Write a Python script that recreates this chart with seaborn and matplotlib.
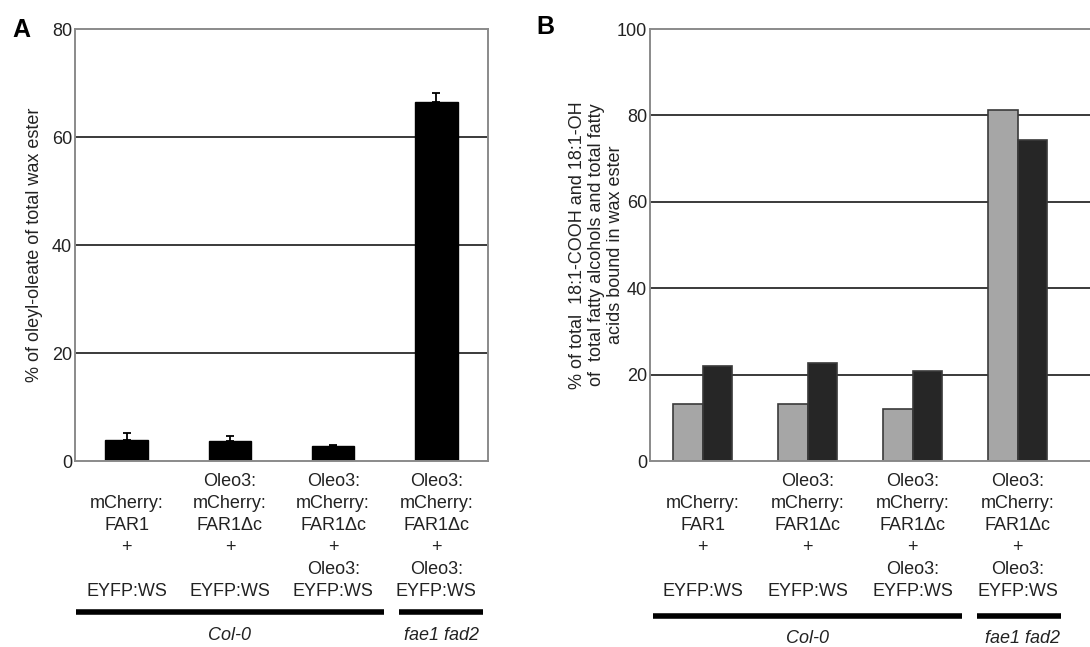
import seaborn as sns
import matplotlib.pyplot as plt
import pandas as pd

# data
categories = ['c1', 'c2', 'c3', 'c4']
tick_labels = [
    '\nmCherry:\nFAR1\n+\n\nEYFP:WS',
    'Oleo3:\nmCherry:\nFAR1\u0394c\n+\n\nEYFP:WS',
    'Oleo3:\nmCherry:\nFAR1\u0394c\n+\nOleo3:\nEYFP:WS',
    'Oleo3:\nmCherry:\nFAR1\u0394c\n+\nOleo3:\nEYFP:WS',
]
oleyl_oleate = [3.8, 3.7, 2.7, 66.4]
oleyl_err = [1.4, 1.0, 0.2, 1.8]
acid_18_1 = [13.2, 13.2, 12.0, 81.2]
alcohol_18_1 = [22.1, 22.6, 20.8, 74.3]
series_names = ['18:1-COOH', '18:1-OH']
backgrounds = ['Col-0', 'fae1 fad2']

sns.set_style('white')
plt.rcParams['font.family'] = ['Liberation Sans', 'DejaVu Sans']
plt.rcParams['text.color'] = '#222222'

FS = 13
W, H = 1090, 647
fig = plt.figure(figsize=(W / 100, H / 100), dpi=100)


def px_axes(left, top, right, bottom):
    return fig.add_axes([left / W, 1 - bottom / H, (right - left) / W, (bottom - top) / H])


def style_axes(ax, top, grid):
    ax.set_ylim(0, top)
    ax.set_yticks(range(0, top + 1, 20))
    for y in grid:
        ax.axhline(y, color='#3a3a3a', lw=1.4, zorder=0)
    for s in ax.spines.values():
        s.set_color('#8a8a8a')
        s.set_linewidth(1.4)
    ax.tick_params(axis='y', length=0, pad=2, labelsize=FS, labelcolor='#222222')
    ax.tick_params(axis='x', length=0, pad=9)
    ax.set_xticks(range(len(tick_labels)))
    ax.set_xticklabels(tick_labels, fontsize=FS, linespacing=1.38, color='#222222', va='top')
    ax.set_xlabel('')


def group_lines(ax, col_span, fae_span, y_line, y_text):
    tr = ax.get_xaxis_transform()
    ax.plot(col_span, [y_line, y_line], color='black', lw=4, transform=tr, clip_on=False,
            solid_capstyle='butt')
    ax.plot(fae_span, [y_line, y_line], color='black', lw=4, transform=tr, clip_on=False,
            solid_capstyle='butt')
    ax.text(1, y_text, backgrounds[0], transform=tr, ha='center', va='center',
            fontsize=FS, style='italic')
    ax.text(3.05, y_text, backgrounds[1], transform=tr, ha='center', va='center',
            fontsize=FS, style='italic')


# panel A
axA = px_axes(75, 29, 488, 461)
dfA = pd.DataFrame({'cat': categories, 'val': oleyl_oleate})
sns.barplot(data=dfA, x='cat', y='val', color='black', width=0.41, ax=axA,
            edgecolor='black', saturation=1, zorder=2)
axA.errorbar(range(len(categories)), oleyl_oleate,
             yerr=[[0] * len(oleyl_err), oleyl_err], fmt='none',
             ecolor='black', elinewidth=1.3, capsize=3, capthick=1.3, zorder=3)
axA.set_xlim(-0.5, 3.5)
style_axes(axA, 80, [20, 40, 60])
axA.set_ylabel('% of oleyl-oleate of total wax ester', fontsize=FS, color='#222222')
axA.yaxis.set_label_coords(-0.078, 0.5)
group_lines(axA, [-0.49, 2.49], [2.64, 3.45], -0.35, -0.405)
fig.text(12 / W, 1 - 30 / H, 'A', fontsize=18, fontweight='heavy', va='center',
         color='black')

# panel B
axB = px_axes(650, 29, 1090, 461)
dfB = pd.DataFrame({
    'cat': categories * 2,
    'val': acid_18_1 + alcohol_18_1,
    'series': [series_names[0]] * 4 + [series_names[1]] * 4,
})
sns.barplot(data=dfB, x='cat', y='val', hue='series', palette=['#a6a6a6', '#262626'],
            width=0.57, ax=axB, edgecolor='#3a3a3a', linewidth=1.2, saturation=1,
            legend=False, zorder=2)
axB.set_xlim(-0.5, -0.5 + 440 / 105)
style_axes(axB, 100, [20, 40, 60, 80])
axB.spines['right'].set_visible(False)
axB.set_ylabel('% of total  18:1-COOH and 18:1-OH\nof  total fatty alcohols and total fatty\n'
               'acids bound in wax ester', fontsize=FS, color='#222222', linespacing=1.15)
axB.yaxis.set_label_coords(-0.059, 0.5)
group_lines(axB, [-0.476, 2.47], [2.61, 3.41], -0.359, -0.41)
fig.text(536 / W, 1 - 27 / H, 'B', fontsize=18, fontweight='heavy', va='center',
         color='black')

fig.savefig('out.png', dpi=100)
